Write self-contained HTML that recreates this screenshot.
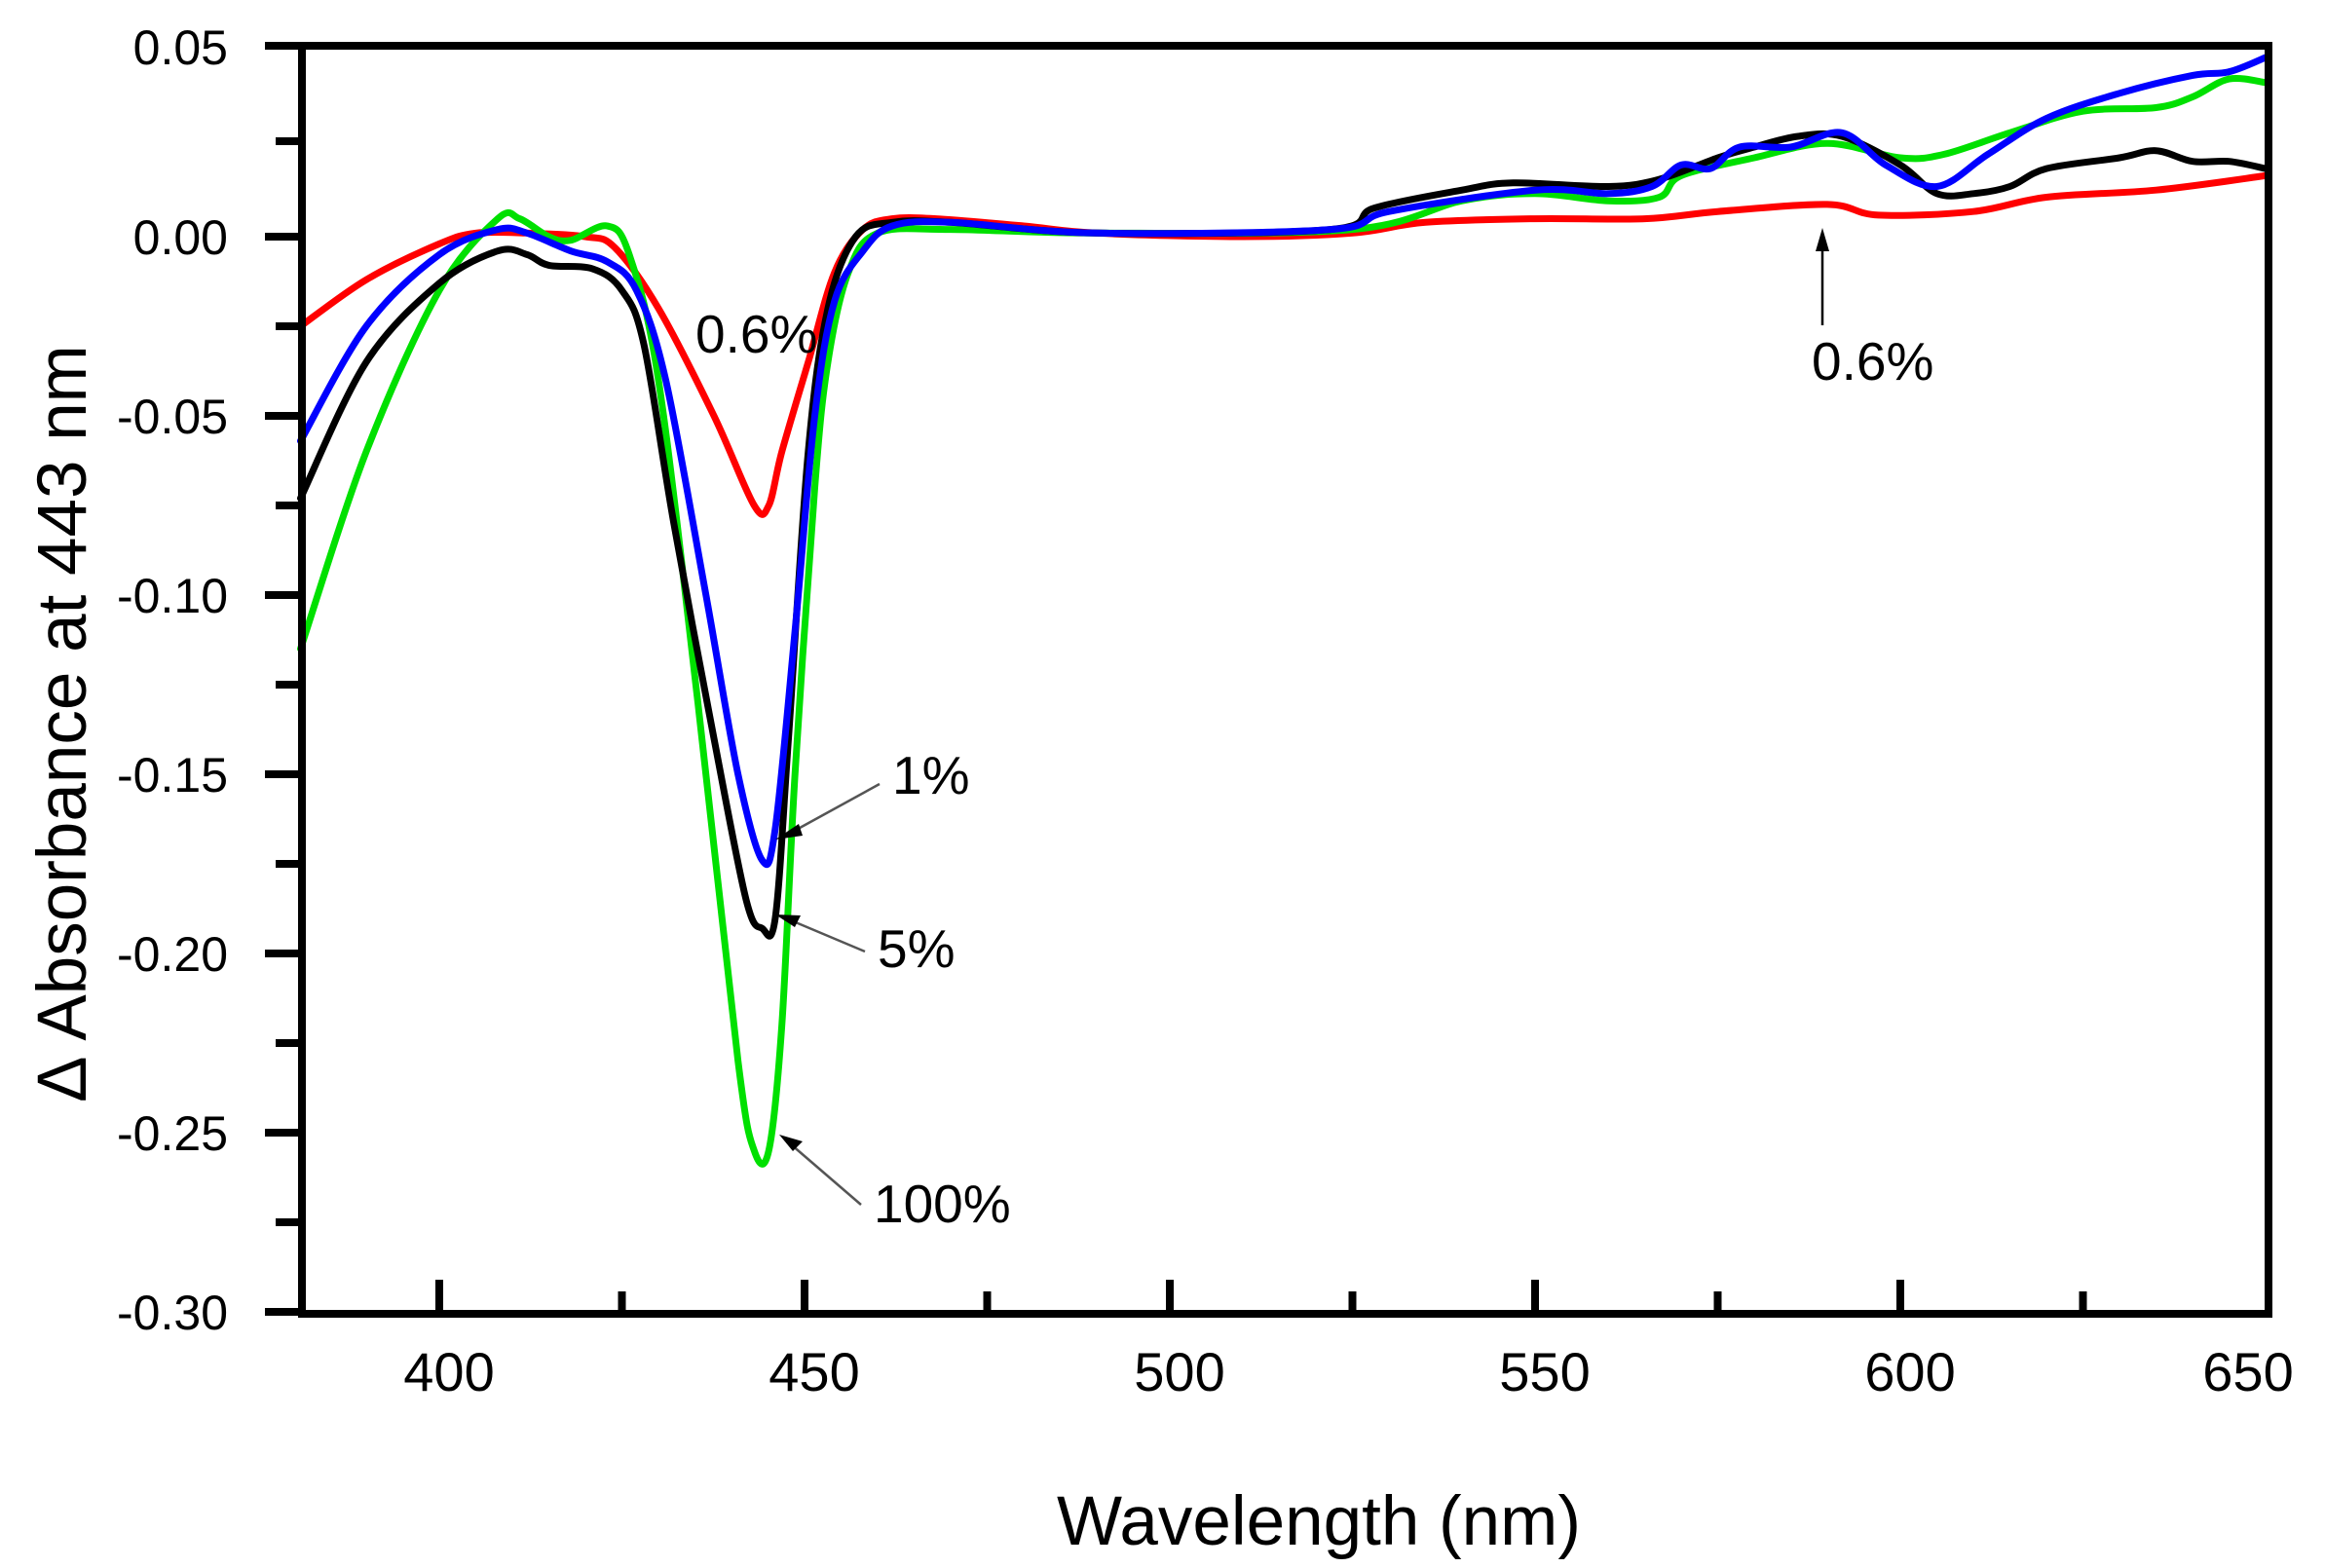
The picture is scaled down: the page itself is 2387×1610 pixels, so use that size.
<!DOCTYPE html>
<html><head><meta charset="utf-8"><style>
body{margin:0;background:#fff;}
svg{display:block;font-family:"Liberation Sans",sans-serif;}
</style></head><body>
<svg id="s" width="2387" height="1610" viewBox="0 0 2387 1610" xmlns="http://www.w3.org/2000/svg">
<g id="curves" fill="none" stroke-width="7" stroke-linejoin="round" stroke-linecap="round"></g>
<rect x="310" y="47" width="2019" height="1302" fill="none" stroke="#000" stroke-width="8"/>
<g id="ticks" stroke="#000" stroke-width="8"></g>
<g font-size="50" text-anchor="end" fill="#000">
<text x="234" y="66">0.05</text>
<text x="234" y="261">0.00</text>
<text x="234" y="445">-0.05</text>
<text x="234" y="629">-0.10</text>
<text x="234" y="813">-0.15</text>
<text x="234" y="997">-0.20</text>
<text x="234" y="1181">-0.25</text>
<text x="234" y="1365">-0.30</text>
</g>
<g font-size="56" text-anchor="middle" fill="#000">
<text x="461" y="1428">400</text>
<text x="836" y="1428">450</text>
<text x="1211" y="1428">500</text>
<text x="1586" y="1428">550</text>
<text x="1961" y="1428">600</text>
<text x="2308" y="1428">650</text>
</g>
<text x="1354" y="1586" font-size="71" text-anchor="middle">Wavelength (nm)</text>
<text transform="translate(88,743) rotate(-90)" font-size="71" text-anchor="middle">Δ Absorbance at 443 nm</text>
<g font-size="55" fill="#000">
<text x="714" y="362">0.6%</text>
<text x="916" y="815">1%</text>
<text x="901" y="993">5%</text>
<text x="897" y="1255">100%</text>
<text x="1860" y="390">0.6%</text>
</g>
<g stroke="#555" stroke-width="2.5">
<line x1="903" y1="805" x2="812" y2="855"/>
<line x1="888" y1="977" x2="812" y2="945"/>
<line x1="884" y1="1237" x2="812" y2="1175"/>
<line x1="1871" y1="334" x2="1871" y2="255" stroke="#000"/>
</g>
<g fill="#000">
<polygon points="796,862 820,846 824,858"/>
<polygon points="796,939 822,940 816,952"/>
<polygon points="800,1165 824,1172 814,1182"/>
<polygon points="1871,234 1864,258 1878,258"/>
</g>
</svg>
<script>
const X=w=>451+(w+Math.max(0,1.2-Math.abs(w-443)/10)-400)*7.5, Y=v=>243-v*3680;
const D={
"#ff0000":[[381,-0.025],[390,-0.012],[400,-0.002],[405,0.001],[412,0.001],[420,0],[424,-0.003],[430,-0.02],[437,-0.05],[442,-0.075],[444,-0.075],[446,-0.06],[450,-0.035],[454,-0.01],[458,0.002],[462,0.005],[468,0.005],[480,0.003],[490,0.001],[510,0],[525,0.001],[535,0.004],[550,0.005],[565,0.005],[575,0.007],[590,0.009],[597,0.006],[610,0.007],[620,0.011],[635,0.013],[650,0.017]],
"#00e000":[[381,-0.115],[390,-0.06],[400,-0.015],[408,0.005],[411,0.005],[415,0],[418,-0.001],[423,0.003],[426,-0.005],[430,-0.04],[435,-0.13],[440,-0.23],[442,-0.255],[444,-0.255],[446,-0.22],[448,-0.15],[451,-0.07],[453,-0.035],[456,-0.01],[460,0.001],[470,0.002],[490,0.001],[525,0.002],[540,0.01],[550,0.012],[560,0.01],[567,0.011],[570,0.017],[580,0.022],[590,0.026],[600,0.022],[606,0.023],[615,0.029],[625,0.035],[635,0.036],[640,0.039],[645,0.044],[650,0.043]],
"#000000":[[381,-0.073],[390,-0.035],[400,-0.013],[408,-0.004],[412,-0.005],[415,-0.008],[421,-0.009],[425,-0.015],[428,-0.03],[432,-0.08],[437,-0.14],[441,-0.185],[443,-0.193],[445,-0.19],[447,-0.14],[450,-0.06],[453,-0.02],[457,0],[462,0.004],[470,0.004],[490,0.001],[522,0.002],[528,0.008],[540,0.013],[547,0.015],[560,0.014],[567,0.016],[575,0.022],[580,0.025],[586,0.028],[592,0.028],[600,0.02],[605,0.012],[610,0.012],[615,0.014],[620,0.019],[630,0.022],[635,0.024],[640,0.021],[645,0.021],[650,0.019]],
"#0000ff":[[381,-0.057],[390,-0.025],[400,-0.005],[408,0.002],[412,0.001],[418,-0.004],[423,-0.007],[427,-0.015],[431,-0.04],[436,-0.1],[440,-0.15],[443,-0.174],[445,-0.165],[448,-0.11],[451,-0.05],[454,-0.018],[458,-0.004],[462,0.003],[470,0.004],[490,0.001],[522,0.002],[530,0.007],[550,0.013],[560,0.012],[566,0.014],[570,0.02],[574,0.019],[578,0.025],[585,0.025],[592,0.029],[598,0.02],[605,0.014],[612,0.023],[620,0.033],[630,0.04],[640,0.045],[645,0.046],[650,0.05]]};
const ns="http://www.w3.org/2000/svg",g=document.getElementById("curves");
for(const c in D){const P=D[c].map(([w,v])=>[X(w),Y(v)]);let d="M"+P[0][0].toFixed(1)+","+P[0][1].toFixed(1);
for(let i=0;i<P.length-1;i++){const p0=P[Math.max(0,i-1)],p1=P[i],p2=P[i+1],p3=P[Math.min(P.length-1,i+2)];
const c1=[p1[0]+(p2[0]-p0[0])/6,p1[1]+(p2[1]-p0[1])/6],c2=[p2[0]-(p3[0]-p1[0])/6,p2[1]-(p3[1]-p1[1])/6];
d+=" C"+c1.map(n=>n.toFixed(1))+" "+c2.map(n=>n.toFixed(1))+" "+p2.map(n=>n.toFixed(1));}
const p=document.createElementNS(ns,"path");p.setAttribute("d",d);p.setAttribute("stroke",c);g.appendChild(p);}
const t=document.getElementById("ticks");
const XT=w=>451+(w-400)*7.5;
function L(a,b,c,d){const l=document.createElementNS(ns,"line");l.setAttribute("x1",a);l.setAttribute("y1",b);l.setAttribute("x2",c);l.setAttribute("y2",d);t.appendChild(l);}
for(let i=0;i<=14;i++){const yy=i==0?47:243+(i-2)*92;if(i==1)L(283,145,310,145);else L(i%2==0?272:283,yy,310,yy);}
for(let w=400;w<650;w+=25){const x=XT(w);L(x,w%50==0?1314:1326,x,1349);}
</script>
</body></html>
